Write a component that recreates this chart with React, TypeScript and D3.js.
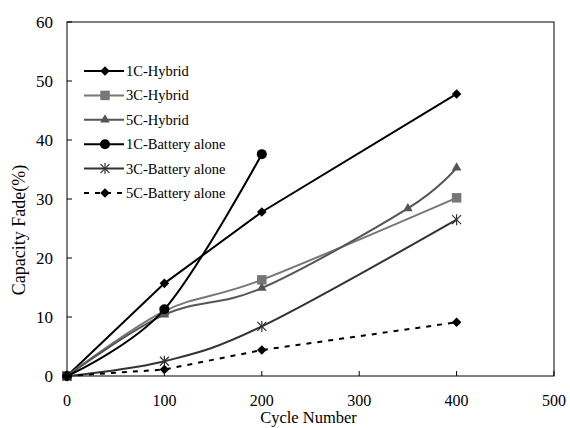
import React from 'react';
import * as d3 from 'd3';

const width = 570;
const height = 428;
const margin = { top: 22, right: 16, bottom: 52, left: 67 };

const xTicks = [0, 100, 200, 300, 400, 500];
const yTicks = [0, 10, 20, 30, 40, 50, 60];

// series values
const hyb1C = [[0, 0], [100, 15.7], [200, 27.8], [400, 47.8]];
const hyb3C = [[0, 0], [100, 11.0], [200, 16.3], [400, 30.2]];
const hyb5C = [[0, 0], [100, 10.4], [200, 14.9], [350, 28.4], [400, 35.3]];
const bat1C = [[0, 0], [100, 11.3], [200, 37.6]];
const bat3C = [[0, 0], [100, 2.5], [200, 8.4], [400, 26.5]];
const bat5C = [[0, 0], [100, 1.1], [200, 4.4], [400, 9.1]];

const series = [
  { name: '1C-Hybrid', data: hyb1C, color: '#000', marker: 'diamond', smooth: false, dash: null },
  { name: '3C-Hybrid', data: hyb3C, color: '#777', marker: 'square', smooth: true, dash: null },
  { name: '5C-Hybrid', data: hyb5C, color: '#555', marker: 'triangle', smooth: true, dash: null },
  { name: '1C-Battery alone', data: bat1C, color: '#000', marker: 'circle', smooth: true, dash: null },
  { name: '3C-Battery alone', data: bat3C, color: '#333', marker: 'star', smooth: true, dash: null },
  { name: '5C-Battery alone', data: bat5C, color: '#000', marker: 'diamond', smooth: false, dash: '5,6' },
];

const font = '"Liberation Serif", "Times New Roman", serif';

const Marker = ({ type, color, cx, cy }) => {
  if (type === 'circle') return <circle cx={cx} cy={cy} r={5} fill={color} />;
  if (type === 'star') {
    const r = 4.5;
    return (
      <g transform={`translate(${cx},${cy})`} stroke={color} strokeWidth={1.2}>
        <line x1={-r} y1={-r} x2={r} y2={r} />
        <line x1={-r} y1={r} x2={r} y2={-r} />
        <line x1={0} y1={-r - 1} x2={0} y2={r + 1} />
      </g>
    );
  }
  let path;
  if (type === 'diamond') path = d3.symbol(d3.symbolDiamond2 || d3.symbolDiamond, 58)();
  else if (type === 'square') path = d3.symbol(d3.symbolSquare, 90)();
  else path = d3.symbol(d3.symbolTriangle, 40)();
  return <path d={path} transform={`translate(${cx},${cy})`} fill={color} />;
};

export default function App() {
  const x = d3.scaleLinear().domain([0, 500]).range([margin.left, width - margin.right]);
  const y = d3.scaleLinear().domain([0, 60]).range([height - margin.bottom, margin.top]);

  const straight = d3.line().x(d => x(d[0])).y(d => y(d[1]));
  // Excel-like smoothing
  const smooth = d3.line().x(d => x(d[0])).y(d => y(d[1])).curve(d3.curveCatmullRom.alpha(0));

  const legendX = 84;
  const legendY = 71;
  const legendStep = 24.4;

  return (
    <svg width={width} height={height} style={{ position: 'absolute', left: 0, top: 0, background: '#fff' }} fontFamily={font}>
      <rect x={0} y={0} width={width} height={height} fill="#fff" />
      {/* frame */}
      <rect x={x(0)} y={y(60)} width={x(500) - x(0)} height={y(0) - y(60)} fill="none" stroke="#000" strokeWidth={1} />

      {/* y ticks */}
      {yTicks.map(t => (
        <g key={'y' + t}>
          <line x1={x(0)} x2={x(0) + 5} y1={y(t)} y2={y(t)} stroke="#000" />
          <text x={x(0) - 14} y={y(t)} dy="0.35em" textAnchor="end" fontSize={17}>{t}</text>
        </g>
      ))}
      {/* x ticks */}
      {xTicks.map(t => (
        <g key={'x' + t}>
          <line x1={x(t)} x2={x(t)} y1={y(0)} y2={y(0) - 5} stroke="#000" />
          <text x={x(t)} y={y(0) + 30} textAnchor="middle" fontSize={16}>{t}</text>
        </g>
      ))}

      <text x={x(250) - 2} y={423} textAnchor="middle" fontSize={16.5}>Cycle Number</text>
      <text transform={`translate(25,230) rotate(-90)`} textAnchor="middle" fontSize={18}>Capacity Fade(%)</text>

      {/* series */}
      {series.map(s => (
        <g key={s.name}>
          <path
            d={(s.smooth ? smooth : straight)(s.data)}
            fill="none"
            stroke={s.color}
            strokeWidth={2}
            strokeDasharray={s.dash || undefined}
          />
          {s.data.map((d, i) => (
            <Marker key={i} type={s.marker} color={s.color} cx={x(d[0])} cy={y(d[1])} />
          ))}
        </g>
      ))}

      {/* legend */}
      {series.map((s, i) => {
        const ly = legendY + i * legendStep;
        return (
          <g key={'lg' + s.name}>
            <line x1={legendX} x2={legendX + 40} y1={ly} y2={ly} stroke={s.color} strokeWidth={2} strokeDasharray={s.dash || undefined} />
            <Marker type={s.marker} color={s.color} cx={legendX + 21} cy={ly} />
            <text x={legendX + 42} y={ly} dy="0.35em" fontSize={14.5}>{s.name}</text>
          </g>
        );
      })}
    </svg>
  );
}
